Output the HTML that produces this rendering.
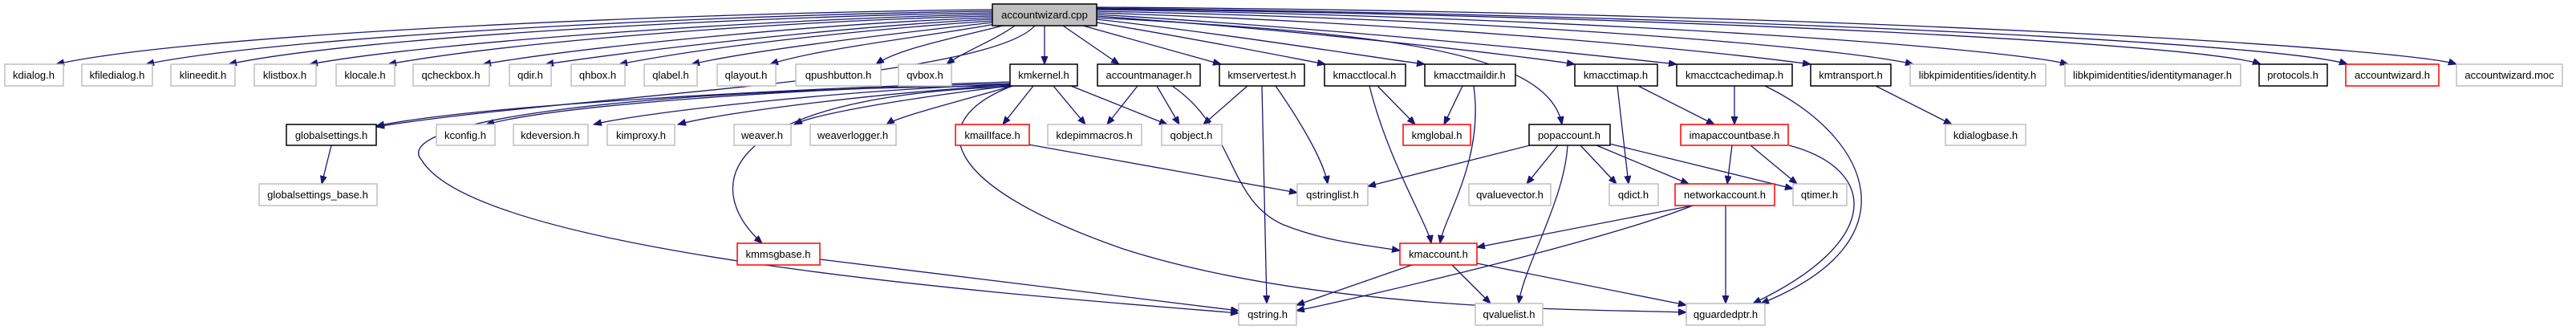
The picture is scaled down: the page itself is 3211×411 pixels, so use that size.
<!DOCTYPE html>
<html><head><meta charset="utf-8"><style>
html,body{margin:0;padding:0;background:#fff;width:3211px;height:411px;overflow:hidden}
svg{display:block}
text{font-family:"Liberation Sans",Arial,sans-serif;font-size:13px;fill:#000;text-anchor:middle}
.e{fill:none;stroke:#191970;stroke-width:1.3;marker-end:url(#a)}
.g{fill:#fff;stroke:#bfbfbf;stroke-width:1.5}
.b{fill:#fff;stroke:#000;stroke-width:1.5}
.r{fill:#fff;stroke:#ff0000;stroke-width:1.5}
</style></head><body>
<svg width="3211" height="411" viewBox="0 0 3211 411">
<defs><marker id="a" markerWidth="11" markerHeight="9" refX="10" refY="4" orient="auto" markerUnits="userSpaceOnUse"><path d="M0,0 L10,4 L0,8 z" fill="#191970" stroke="#191970"/></marker></defs>
<g>
<path class="e" d="M1237,12 C900,15 250,40 70,80"/>
<path class="e" d="M1237,14 C900,18 350,45 182,80"/>
<path class="e" d="M1237,16 C950,20 450,45 285,80"/>
<path class="e" d="M1237,18 C1000,22 550,50 386,80"/>
<path class="e" d="M1237,20 C1000,25 650,50 484,80"/>
<path class="e" d="M1237,22 C1050,28 750,55 602,80"/>
<path class="e" d="M1237,24 C1100,30 850,55 680,80"/>
<path class="e" d="M1237,26 C1100,35 900,55 772,80"/>
<path class="e" d="M1237,28 C1150,38 950,60 862,80"/>
<path class="e" d="M1240,30 C1180,42 1020,60 960,80"/>
<path class="e" d="M1250,32 C1200,45 1120,60 1092,80"/>
<path class="e" d="M1265,32 C1240,50 1200,65 1180,80"/>
<path class="e" d="M1302,32 L1302,80"/>
<path class="e" d="M1325,32 L1395,80"/>
<path class="e" d="M1350,32 L1522,80"/>
<path class="e" d="M1367,28 C1500,50 1600,70 1652,80"/>
<path class="e" d="M1367,24 C1550,45 1700,70 1776,80"/>
<path class="e" d="M1367,20 C1650,40 1900,70 1963,80"/>
<path class="e" d="M1367,18 C1700,38 2000,70 2090,80"/>
<path class="e" d="M1367,16 C1800,30 2150,65 2257,80"/>
<path class="e" d="M1367,14 C1900,25 2300,60 2385,80"/>
<path class="e" d="M1367,12 C2000,22 2500,60 2578,80"/>
<path class="e" d="M1367,11 C2100,20 2750,55 2818,80"/>
<path class="e" d="M1367,10 C2200,20 2850,55 2926,80"/>
<path class="e" d="M1367,9 C2300,15 3000,60 3062,80"/>
<path class="e" d="M1367,22 C1700,40 1930,60 1947,155"/>
<path class="e" d="M1290,32 C1230,100 700,120 469,158"/>
<path class="e" d="M1259,102 C1000,110 600,130 469,157"/>
<path class="e" d="M1259,104 C1000,110 700,130 606,155"/>
<path class="e" d="M1259,105 C1050,112 800,140 740,155"/>
<path class="e" d="M1259,106 C1100,115 900,140 845,155"/>
<path class="e" d="M1259,107 C1150,120 1020,140 990,155"/>
<path class="e" d="M1262,107 C1200,125 1120,145 1105,155"/>
<path class="e" d="M1259,108 C900,120 870,230 950,303"/>
<path class="e" d="M1262,107 C800,110 480,150 526,200 C600,320 1300,370 1544,390"/>
<path class="e" d="M1262,107 C1150,150 1170,230 1400,310 C1650,390 2000,385 2102,389"/>
<path class="e" d="M1288,107 L1250,155"/>
<path class="e" d="M1313,107 L1353,155"/>
<path class="e" d="M1335,107 L1455,155"/>
<path class="e" d="M1418,107 L1380,155"/>
<path class="e" d="M1442,107 L1470,155"/>
<path class="e" d="M1461,107 C1540,160 1530,250 1600,280 C1650,300 1700,305 1745,312"/>
<path class="e" d="M1555,107 L1500,155"/>
<path class="e" d="M1573,107 L1579,378"/>
<path class="e" d="M1590,107 C1620,150 1650,200 1655,229"/>
<path class="e" d="M1717,107 L1764,155"/>
<path class="e" d="M1707,107 C1730,200 1780,280 1784,303"/>
<path class="e" d="M1823,107 L1800,155"/>
<path class="e" d="M1837,107 C1850,200 1800,270 1795,303"/>
<path class="e" d="M2016,107 L2030,229"/>
<path class="e" d="M2042,107 L2137,155"/>
<path class="e" d="M2162,107 L2162,155"/>
<path class="e" d="M2200,107 C2330,170 2390,300 2195,378"/>
<path class="e" d="M2230,181 C2340,210 2350,300 2185,378"/>
<path class="e" d="M2159,181 L2153,229"/>
<path class="e" d="M2182,181 L2240,229"/>
<path class="e" d="M2338,107 L2433,155"/>
<path class="e" d="M413,181 L401,229"/>
<path class="e" d="M1282,180 L1617,240"/>
<path class="e" d="M1907,181 L1705,232"/>
<path class="e" d="M1942,181 L1903,229"/>
<path class="e" d="M1954,181 C1950,250 1900,330 1893,378"/>
<path class="e" d="M1970,181 L2015,229"/>
<path class="e" d="M1990,181 L2105,229"/>
<path class="e" d="M2006,179 L2235,235"/>
<path class="e" d="M2110,256 L1841,308"/>
<path class="e" d="M2110,256 C2000,300 1700,370 1616,387"/>
<path class="e" d="M2151,256 L2151,378"/>
<path class="e" d="M1760,330 L1616,380"/>
<path class="e" d="M1810,330 L1858,378"/>
<path class="e" d="M1841,328 L2102,380"/>
<path class="e" d="M1022,323 L1544,387"/>
</g>
<g>
<rect x="1237" y="5" width="130" height="27" fill="#bfbfbf" stroke="#000" stroke-width="1.5"/><text x="1302" y="23">accountwizard.cpp</text>
<rect class="g" x="6" y="80" width="73" height="27"/><text x="42" y="98">kdialog.h</text>
<rect class="g" x="102" y="80" width="88" height="27"/><text x="146" y="98">kfiledialog.h</text>
<rect class="g" x="213" y="80" width="80" height="27"/><text x="253" y="98">klineedit.h</text>
<rect class="g" x="317" y="80" width="77" height="27"/><text x="355" y="98">klistbox.h</text>
<rect class="g" x="419" y="80" width="73" height="27"/><text x="455" y="98">klocale.h</text>
<rect class="g" x="515" y="80" width="95" height="27"/><text x="562" y="98">qcheckbox.h</text>
<rect class="g" x="635" y="80" width="52" height="27"/><text x="661" y="98">qdir.h</text>
<rect class="g" x="712" y="80" width="67" height="27"/><text x="745" y="98">qhbox.h</text>
<rect class="g" x="803" y="80" width="66" height="27"/><text x="836" y="98">qlabel.h</text>
<rect class="g" x="894" y="80" width="73" height="27"/><text x="930" y="98">qlayout.h</text>
<rect class="g" x="992" y="80" width="106" height="27"/><text x="1045" y="98">qpushbutton.h</text>
<rect class="g" x="1120" y="80" width="66" height="27"/><text x="1153" y="98">qvbox.h</text>
<rect class="b" x="1259" y="80" width="84" height="27"/><text x="1301" y="98">kmkernel.h</text>
<rect class="b" x="1368" y="80" width="128" height="27"/><text x="1432" y="98">accountmanager.h</text>
<rect class="b" x="1520" y="80" width="106" height="27"/><text x="1573" y="98">kmservertest.h</text>
<rect class="b" x="1651" y="80" width="101" height="27"/><text x="1701" y="98">kmacctlocal.h</text>
<rect class="b" x="1776" y="80" width="113" height="27"/><text x="1832" y="98">kmacctmaildir.h</text>
<rect class="b" x="1963" y="80" width="103" height="27"/><text x="2014" y="98">kmacctimap.h</text>
<rect class="b" x="2090" y="80" width="144" height="27"/><text x="2162" y="98">kmacctcachedimap.h</text>
<rect class="b" x="2257" y="80" width="100" height="27"/><text x="2307" y="98">kmtransport.h</text>
<rect class="g" x="2381" y="80" width="169" height="27"/><text x="2465" y="98">libkpimidentities/identity.h</text>
<rect class="g" x="2574" y="80" width="219" height="27"/><text x="2683" y="98">libkpimidentities/identitymanager.h</text>
<rect class="b" x="2816" y="80" width="85" height="27"/><text x="2858" y="98">protocols.h</text>
<rect class="r" x="2924" y="80" width="116" height="27"/><text x="2982" y="98">accountwizard.h</text>
<rect class="g" x="3062" y="80" width="132" height="27"/><text x="3128" y="98">accountwizard.moc</text>
<rect class="b" x="357" y="155" width="112" height="26"/><text x="413" y="173">globalsettings.h</text>
<rect class="g" x="544" y="155" width="73" height="26"/><text x="580" y="173">kconfig.h</text>
<rect class="g" x="640" y="155" width="93" height="26"/><text x="686" y="173">kdeversion.h</text>
<rect class="g" x="757" y="155" width="84" height="26"/><text x="799" y="173">kimproxy.h</text>
<rect class="g" x="915" y="155" width="71" height="26"/><text x="950" y="173">weaver.h</text>
<rect class="g" x="1010" y="155" width="107" height="26"/><text x="1063" y="173">weaverlogger.h</text>
<rect class="r" x="1191" y="155" width="92" height="26"/><text x="1237" y="173">kmailIface.h</text>
<rect class="g" x="1306" y="155" width="117" height="26"/><text x="1364" y="173">kdepimmacros.h</text>
<rect class="g" x="1448" y="155" width="75" height="26"/><text x="1485" y="173">qobject.h</text>
<rect class="r" x="1749" y="155" width="84" height="26"/><text x="1791" y="173">kmglobal.h</text>
<rect class="b" x="1906" y="155" width="101" height="26"/><text x="1956" y="173">popaccount.h</text>
<rect class="r" x="2095" y="155" width="134" height="26"/><text x="2162" y="173">imapaccountbase.h</text>
<rect class="g" x="2425" y="155" width="100" height="26"/><text x="2475" y="173">kdialogbase.h</text>
<rect class="g" x="323" y="229" width="147" height="27"/><text x="396" y="247">globalsettings_base.h</text>
<rect class="g" x="1617" y="229" width="88" height="27"/><text x="1661" y="247">qstringlist.h</text>
<rect class="g" x="1831" y="229" width="102" height="27"/><text x="1882" y="247">qvaluevector.h</text>
<rect class="g" x="2006" y="229" width="61" height="27"/><text x="2036" y="247">qdict.h</text>
<rect class="r" x="2088" y="229" width="124" height="27"/><text x="2150" y="247">networkaccount.h</text>
<rect class="g" x="2235" y="229" width="67" height="27"/><text x="2268" y="247">qtimer.h</text>
<rect class="r" x="919" y="303" width="103" height="27"/><text x="970" y="321">kmmsgbase.h</text>
<rect class="r" x="1745" y="303" width="96" height="27"/><text x="1793" y="321">kmaccount.h</text>
<rect class="g" x="1544" y="378" width="72" height="27"/><text x="1580" y="396">qstring.h</text>
<rect class="g" x="1839" y="378" width="84" height="27"/><text x="1881" y="396">qvaluelist.h</text>
<rect class="g" x="2102" y="378" width="98" height="27"/><text x="2151" y="396">qguardedptr.h</text>
</g>
</svg>
</body></html>
